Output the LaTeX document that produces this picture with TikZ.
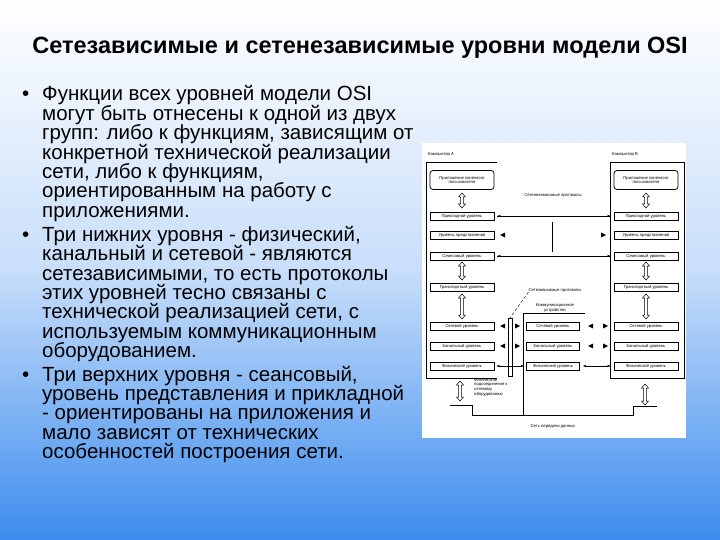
\documentclass[tikz,border=0pt]{standalone}
\usepackage{fontspec}
\setmainfont{Liberation Sans}
\usetikzlibrary{arrows.meta,calc}
\newcommand{\vdbl}[3]{% x, ytop, ybottom
 \draw[fill=white,line width=0.5pt] (#1,#2) -- (#1+3.5,#2+4) -- (#1+1.3,#2+4) -- (#1+1.3,#3-4) -- (#1+3.5,#3-4) -- (#1,#3) -- (#1-3.5,#3-4) -- (#1-1.3,#3-4) -- (#1-1.3,#2+4) -- (#1-3.5,#2+4) -- cycle;}
\begin{document}
\begin{tikzpicture}[x=1pt,y=-1pt,
  lay/.style={draw,thick,minimum width=64pt,minimum height=8pt,inner sep=0pt,font=\fontsize{4.2}{4.6}\selectfont},
  tiny/.style={font=\fontsize{4.2}{4.8}\selectfont,inner sep=0pt,align=center},
  arr/.style={-{Latex[length=3pt,width=2.5pt]}},
  body/.style={anchor=base west,inner sep=0pt,font=\fontsize{20.5}{22}\selectfont}]
\useasboundingbox (0,0) rectangle (720,540);
\shade[top color=white,bottom color={rgb,255:red,60;green,140;blue,238},middle color={rgb,255:red,200;green,222;blue,250}] (0,0) rectangle (720,540);
\node[font=\bfseries\fontsize{23.5}{26}\selectfont] (title) at (360,48) {Сетезависимые и сетенезависимые уровни модели OSI};
% bullets
\foreach \t/\y [count=\i] in {
 Функции всех уровней модели OSI/101,
 могут быть отнесены к одной из двух/121,
 групп: либо к функциям{,} зависящим от/140,
 конкретной технической реализации/160,
 сети{,} либо к функциям{,}/179,
 ориентированным на работу с/198,
 приложениями./218,
 Три нижних уровня - физический{,}/241,
 канальный и сетевой - являются/260,
 сетезависимыми{,} то есть протоколы/280,
 этих уровней тесно связаны с/299,
 технической реализацией сети{,} с/318,
 используемым коммуникационным/338,
 оборудованием./357,
 Три верхних уровня - сеансовый{,}/381,
 уровень представления и прикладной/400,
 - ориентированы на приложения и/419,
 мало зависят от технических/439,
 особенностей построения сети./458}
 \node[body] (l\i) at (42,\y) {\t};
\foreach \y/\n in {101/a,241/b,381/c} \node[body] (bul\n) at (22,\y) {•};
% diagram
\fill[white] (422,143) rectangle (686,438);
\node[tiny,anchor=west] (ca) at (428,154) {Компьютер А};
\node[tiny,anchor=west] (cb) at (612,154) {Компьютер В};
\draw[thick] (497,162) -- (426,162) -- (426,378) -- (497,378);
\draw[thick] (610,162) -- (684,162) -- (684,378) -- (610,378) -- cycle;
\node[draw,rounded corners=3pt,thick,minimum width=64pt,minimum height=19pt,tiny] (apA) at (462,180) {Приложение конечного\\пользователя};
\node[draw,rounded corners=3pt,thick,minimum width=64pt,minimum height=19pt,tiny] (apB) at (646,180) {Приложение конечного\\пользователя};
\foreach \s/\x in {A/462,B/646}{
 \node[lay] (p\s) at (\x,216) {Прикладной уровень};
 \node[lay] (r\s) at (\x,235) {Уровень представления};
 \node[lay] (s\s) at (\x,256) {Сеансовый уровень};
 \node[lay] (t\s) at (\x,287) {Транспортный уровень};
 \node[lay] (n\s) at (\x,326) {Сетевой уровень};
 \node[lay] (k\s) at (\x,346) {Канальный уровень};
 \node[lay] (f\s) at (\x,366) {Физический уровень};
 \vdbl{\x}{193}{208}
 \vdbl{\x}{262}{280}
 \vdbl{\x}{294}{319}
}
\node[lay,minimum width=53pt] (nM) at (553,326) {Сетевой уровень};
\node[lay,minimum width=53pt] (kM) at (553,346) {Канальный уровень};
\node[lay,minimum width=53pt] (fM) at (553,366) {Физический уровень};
\coordinate (q1) at ($(pA.east)+(3,0)$);
\coordinate (q2) at ($(pB.west)+(-3,0)$);
\coordinate (q3) at ($(sA.east)+(3,0)$);
\coordinate (q4) at ($(sB.west)+(-3,0)$);
\draw[arr] (q1) -- (q2); \draw[arr] (q2) -- (q1);
\draw[arr] (q3) -- (q4); \draw[arr] (q4) -- (q3);
\draw[thick] (552,222) -- (552,252);
\node[tiny] (sn) at (553,195) {Сетенезависимые протоколы};
\fill (500,235) -- (505,232.5) -- (505,237.5) -- cycle;
\fill (606,235) -- (601,232.5) -- (601,237.5) -- cycle;
\foreach \y in {326,346}{
 \fill (500,\y) -- (505,\y-2.5) -- (505,\y+2.5) -- cycle;
 \fill (520,\y) -- (515,\y-2.5) -- (515,\y+2.5) -- cycle;
 \fill (588,\y) -- (593,\y-2.5) -- (593,\y+2.5) -- cycle;
 \fill (608,\y) -- (603,\y-2.5) -- (603,\y+2.5) -- cycle;
}
\coordinate (f1) at ($(fA.east)+(2,0)$);
\coordinate (f2) at ($(fM.west)+(-2,0)$);
\coordinate (f3) at ($(fM.east)+(3,0)$);
\coordinate (f4) at ($(fB.west)+(-3,0)$);
\draw[{Latex[length=3pt,width=2.5pt]}-{Latex[length=3pt,width=2.5pt]}] (f1) -- (f2);
\draw[{Latex[length=3pt,width=2.5pt]}-{Latex[length=3pt,width=2.5pt]}] (f3) -- (f4);
\draw (508,318) rectangle (512,376);
\node[tiny] (sz) at (555,290) {Сетезависимые протоколы};
\draw[densely dashed] (sz.south west) -- (510,318);
\node[tiny] (ku) at (555,308) {Коммуникационное\\устройство};
\draw[thick] (585,313) -- (523,313) -- (523,415) -- (472,415) -- (472,405) -- (450,405);
\draw[thick] (523,415) -- (633,415) -- (633,406) -- (657,406);
\vdbl{460}{381}{401}
\vdbl{645}{384}{405}
\node[tiny,align=left,anchor=north west] (fp) at (474,378) {Физическое\\подсоединение к\\сетевому\\оборудованию};
\node[tiny] (sp) at (553,426) {Сеть передачи данных};
\end{tikzpicture}
\end{document}
